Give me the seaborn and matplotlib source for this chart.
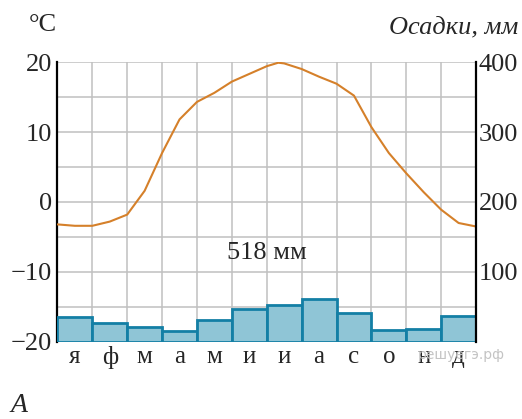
import numpy as np
import pandas as pd
import seaborn as sns
import matplotlib.pyplot as plt

# month labels and monthly precipitation (mm)
months = ["я", "ф", "м", "а", "м", "и", "и", "а", "с", "о", "н", "д"]
precip = [36, 27, 22, 15, 32, 47, 53, 62, 41, 17, 18, 37]
total_label = "518 мм"

# temperature curve, read every half month (x in month units, 0 = start of January)
temp_pos = [0, 0.5, 1, 1.5, 2, 2.5, 3, 3.5, 4, 4.5, 5, 5.5, 6, 6.33, 6.5, 7, 7.5,
            8, 8.5, 9, 9.5, 10, 10.5, 11, 11.5, 12]
temp_vals = [-3.2, -3.4, -3.4, -2.8, -1.8, 1.6, 7.0, 11.8, 14.3, 15.6, 17.2, 18.3,
             19.4, 19.9, 19.8, 19.0, 17.9, 16.9, 15.2, 10.7, 7.0, 4.1, 1.4, -1.1,
             -3.0, -3.5]

sns.set_style("white")
plt.rcParams['font.family'] = ['Liberation Serif', 'DejaVu Serif']
plt.rcParams['axes.unicode_minus'] = True

fig = plt.figure(figsize=(5.22, 4.19), dpi=100)
ax = fig.add_axes([0.110, 0.1838, 0.802, 0.6682])
ax2 = ax.twinx()

grid_col = "#c0c0c0"
line_col = "#d5802a"
bar_face = "#8fc5d6"
bar_edge = "#137fa5"

# temperature line on left axis (x shifted so bars sit at 0..11)
tdf = pd.DataFrame({"x": np.array(temp_pos) - 0.5, "t": temp_vals})
sns.lineplot(data=tdf, x="x", y="t", ax=ax, color=line_col, linewidth=1.5, zorder=3)

# precipitation bars on right axis
pdf = pd.DataFrame({"m": np.arange(12), "p": precip})
sns.barplot(data=pdf, x="m", y="p", ax=ax2, color=bar_face, saturation=1,
            width=1.0, edgecolor=bar_edge, linewidth=2.0)

ax.set_xlim(-0.5, 11.5)
ax.set_ylim(-20, 20)
ax2.set_ylim(0, 400)

ax.set_yticks([-20, -10, 0, 10, 20])
ax.set_yticks(np.arange(-20, 21, 5), minor=True)
ax.set_xticks(np.arange(-0.5, 12, 1), minor=True)
ax.set_xticks(np.arange(12))
ax.set_xticklabels(months)
ax.grid(which="minor", color=grid_col, linewidth=1.1)
ax.grid(which="major", axis="y", color=grid_col, linewidth=1.1)
ax.grid(which="major", axis="x", visible=False)
ax.set_axisbelow(True)

ax2.set_yticks([100, 200, 300, 400])

ax.tick_params(axis="both", which="both", length=0)
ax2.tick_params(axis="both", which="both", length=0)
ax.tick_params(axis="y", labelsize=19, pad=4)
ax2.tick_params(axis="y", labelsize=19, pad=2)
ax.tick_params(axis="x", labelsize=18, pad=3)
for a in (ax, ax2):
    a.set_xlabel("")
    a.set_ylabel("")
    a.spines["top"].set_visible(False)
    a.spines["bottom"].set_visible(False)
    a.spines["left"].set_color("black")
    a.spines["right"].set_color("black")
    a.spines["left"].set_linewidth(1.6)
    a.spines["right"].set_linewidth(1.6)
ax2.spines["left"].set_visible(False)
ax.spines["right"].set_visible(False)

ax2.text(5.5, 127, total_label, ha="center", va="center", fontsize=19)

fig.text(0.055, 0.940, "°C", ha="left", va="center", fontsize=19)
fig.text(0.994, 0.935, "Осадки, мм", ha="right", va="center", fontsize=19, style="italic")
fig.text(0.020, 0.033, "A", ha="left", va="center", fontsize=20, style="italic")
fig.text(0.800, 0.153, "решуегэ.рф", ha="left", va="center", fontsize=10,
         color="#c4c4c4", family=["DejaVu Sans"])

fig.savefig("out.png", dpi=100)
